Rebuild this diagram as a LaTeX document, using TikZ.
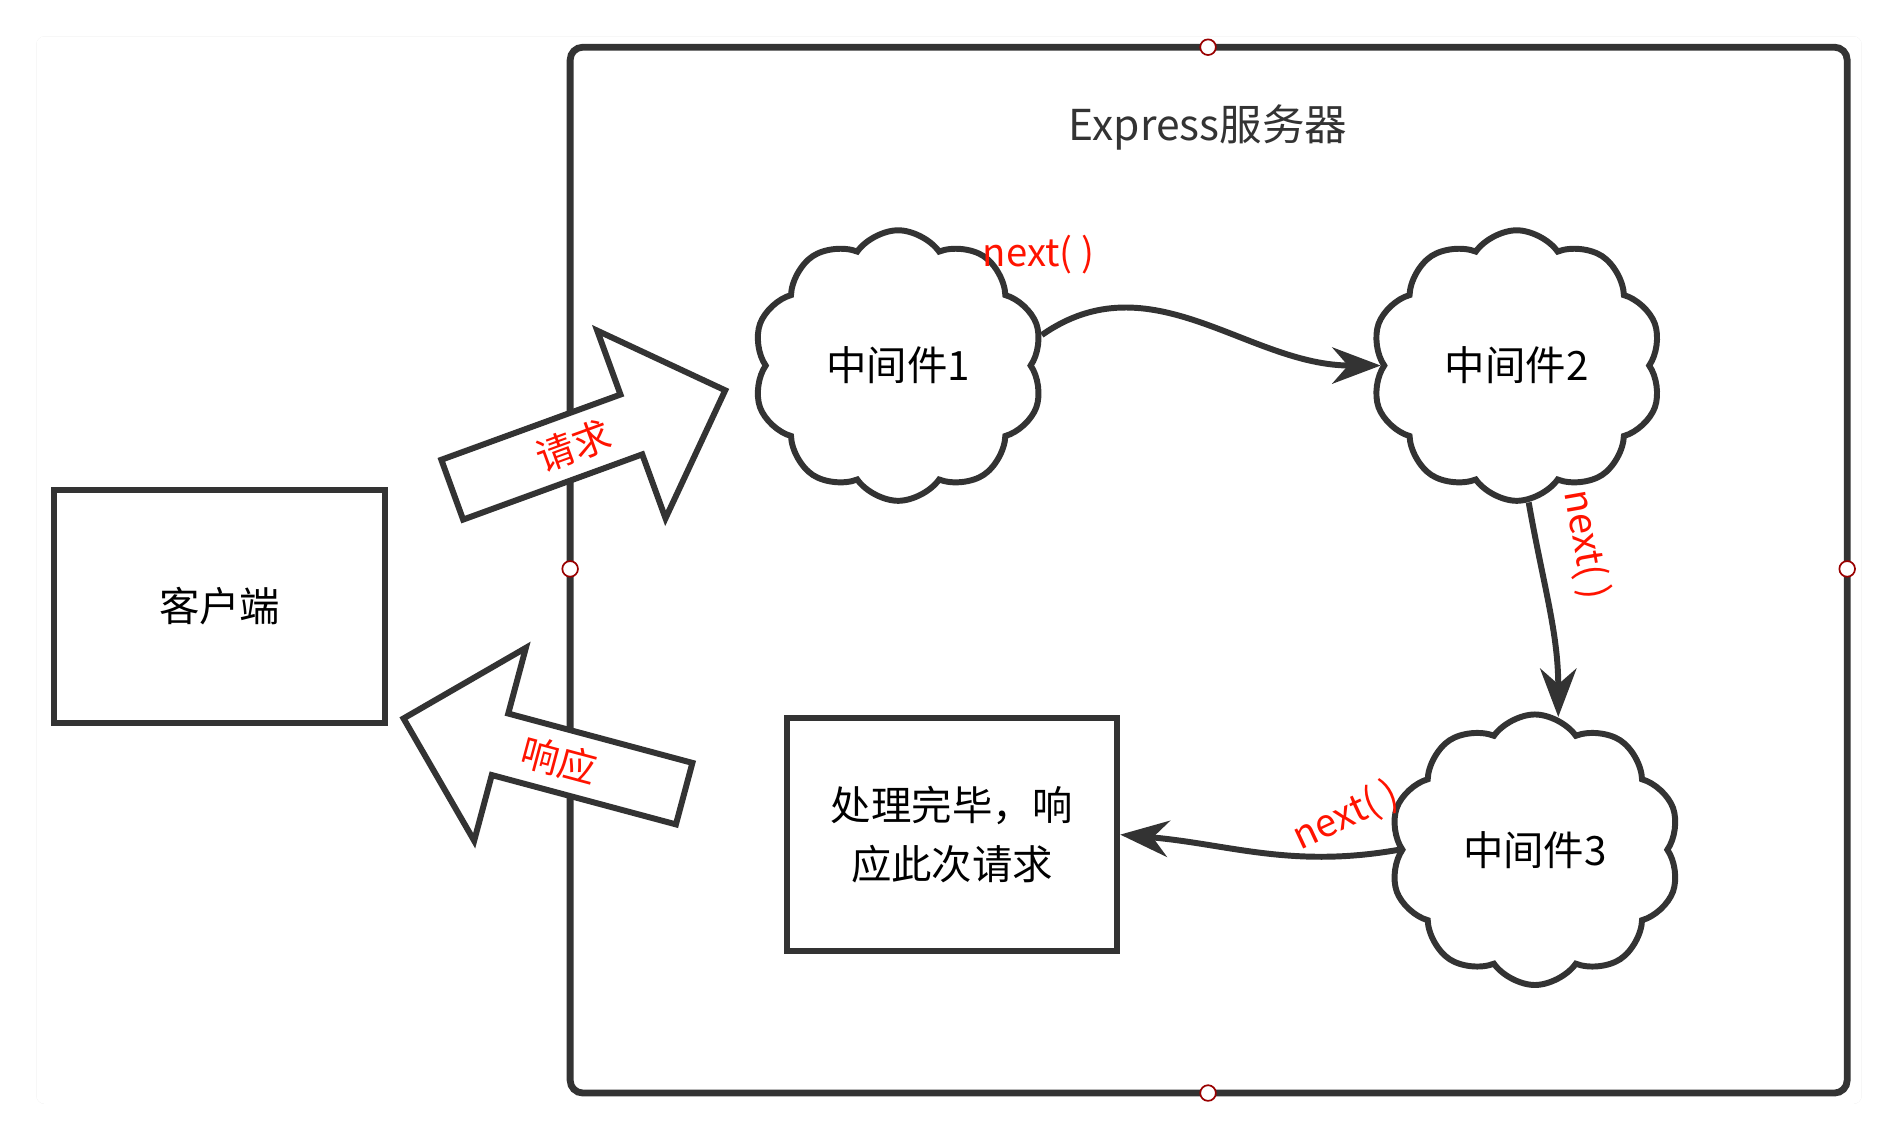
\documentclass[tikz,border=0pt]{standalone}
\usepackage{fontspec}
\setmainfont{Noto Sans CJK SC}
\usetikzlibrary{shadows, positioning, arrows.meta, shapes, shapes.symbols, shapes.arrows}

\begin{document}
\begin{tikzpicture}[
    % --- styles ---
    box/.style={
            draw=black!80,
            line width=1.4pt,
            minimum width=2.73cm,
            minimum height=1.92cm,
            align=center,
            font=\fontsize{9.5}{14}\selectfont
        },
    mw/.style={
            cloud,
            cloud puffs=10,
            cloud puff arc=110,
            draw=black!80,
            line width=1.4pt,
            minimum width=2.4cm,
            minimum height=1.75cm,
            font=\fontsize{9.5}{12}\selectfont
        },
    bigarrow/.style={
            single arrow,
            draw=black!80,
            fill=white,
            line width=1.4pt,
            minimum width=1.65cm,
            single arrow head extend=0.48cm,
            inner ysep=0.2cm,
            inner xsep=0pt
        },
    flow/.style={
            -{Stealth[length=4mm, width=3mm]},
            line width=1.4pt,
            color=black!80
        },
    lbl/.style={
            text=red!85!orange,
            font=\fontsize{9}{11}\selectfont,
            inner sep=1pt
        },
    handle/.style={
            circle,
            draw=red!60!black,
            fill=white,
            inner sep=1.3pt
        }
    ]

    % --- frame ---
    \useasboundingbox (0,0) rectangle (15.68,9.44);
    \fill[white, rounded corners=2pt, drop shadow={opacity=0.25, shadow xshift=0pt, shadow yshift=0pt}]
        (0.30,0.32) rectangle (15.38,9.14);
    \draw[black!80, line width=1.6pt, rounded corners=3pt] (4.71,0.41) rectangle (15.26,9.05);
    \node[handle] (h1) at (9.98,9.05) {};
    \node[handle] (h2) at (4.71,4.74) {};
    \node[handle] (h3) at (15.26,4.74) {};
    \node[handle] (h4) at (9.98,0.41) {};
    \node[font=\fontsize{10}{12}\selectfont, text=black!80] (title) at (9.98,8.39) {Express服务器};

    % --- nodes ---
    \node[box] (client) at (1.815,4.43) {客户端};
    \node[mw] (mw1) at (7.42,6.42) {中间件1};
    \node[mw] (mw2) at (12.53,6.42) {中间件2};
    \node[mw] (mw3) at (12.68,2.42) {中间件3};
    \node[box] (done) at (7.865,2.545) {处理完毕，响\\应此次请求};

    % --- big arrows ---
    \node[bigarrow, rotate=20, minimum height=2.4cm] (req) at (4.74,5.76) {};
    \node[lbl, rotate=20] at (req) {请求};
    \node[bigarrow, rotate=165, minimum height=2.4cm] (resp) at (4.62,3.16) {};
    \node[lbl, rotate=-15] at (resp) {响应};

    % --- flow ---
    \draw[flow] (mw1.12) to[out=35, in=180] (mw2.west);
    \draw[flow] (mw2.-85) to[out=-80, in=90] (mw3.80);
    \draw[flow] (mw3.west) to[out=190, in=-5] (done.east);
    \node[lbl] (n1) at (8.58,7.34) {next( )};
    \node[lbl, rotate=-80] (n2) at (13.1,4.94) {next( )};
    \node[lbl, rotate=25] (n3) at (11.12,2.7) {next( )};

\end{tikzpicture}
\end{document}
